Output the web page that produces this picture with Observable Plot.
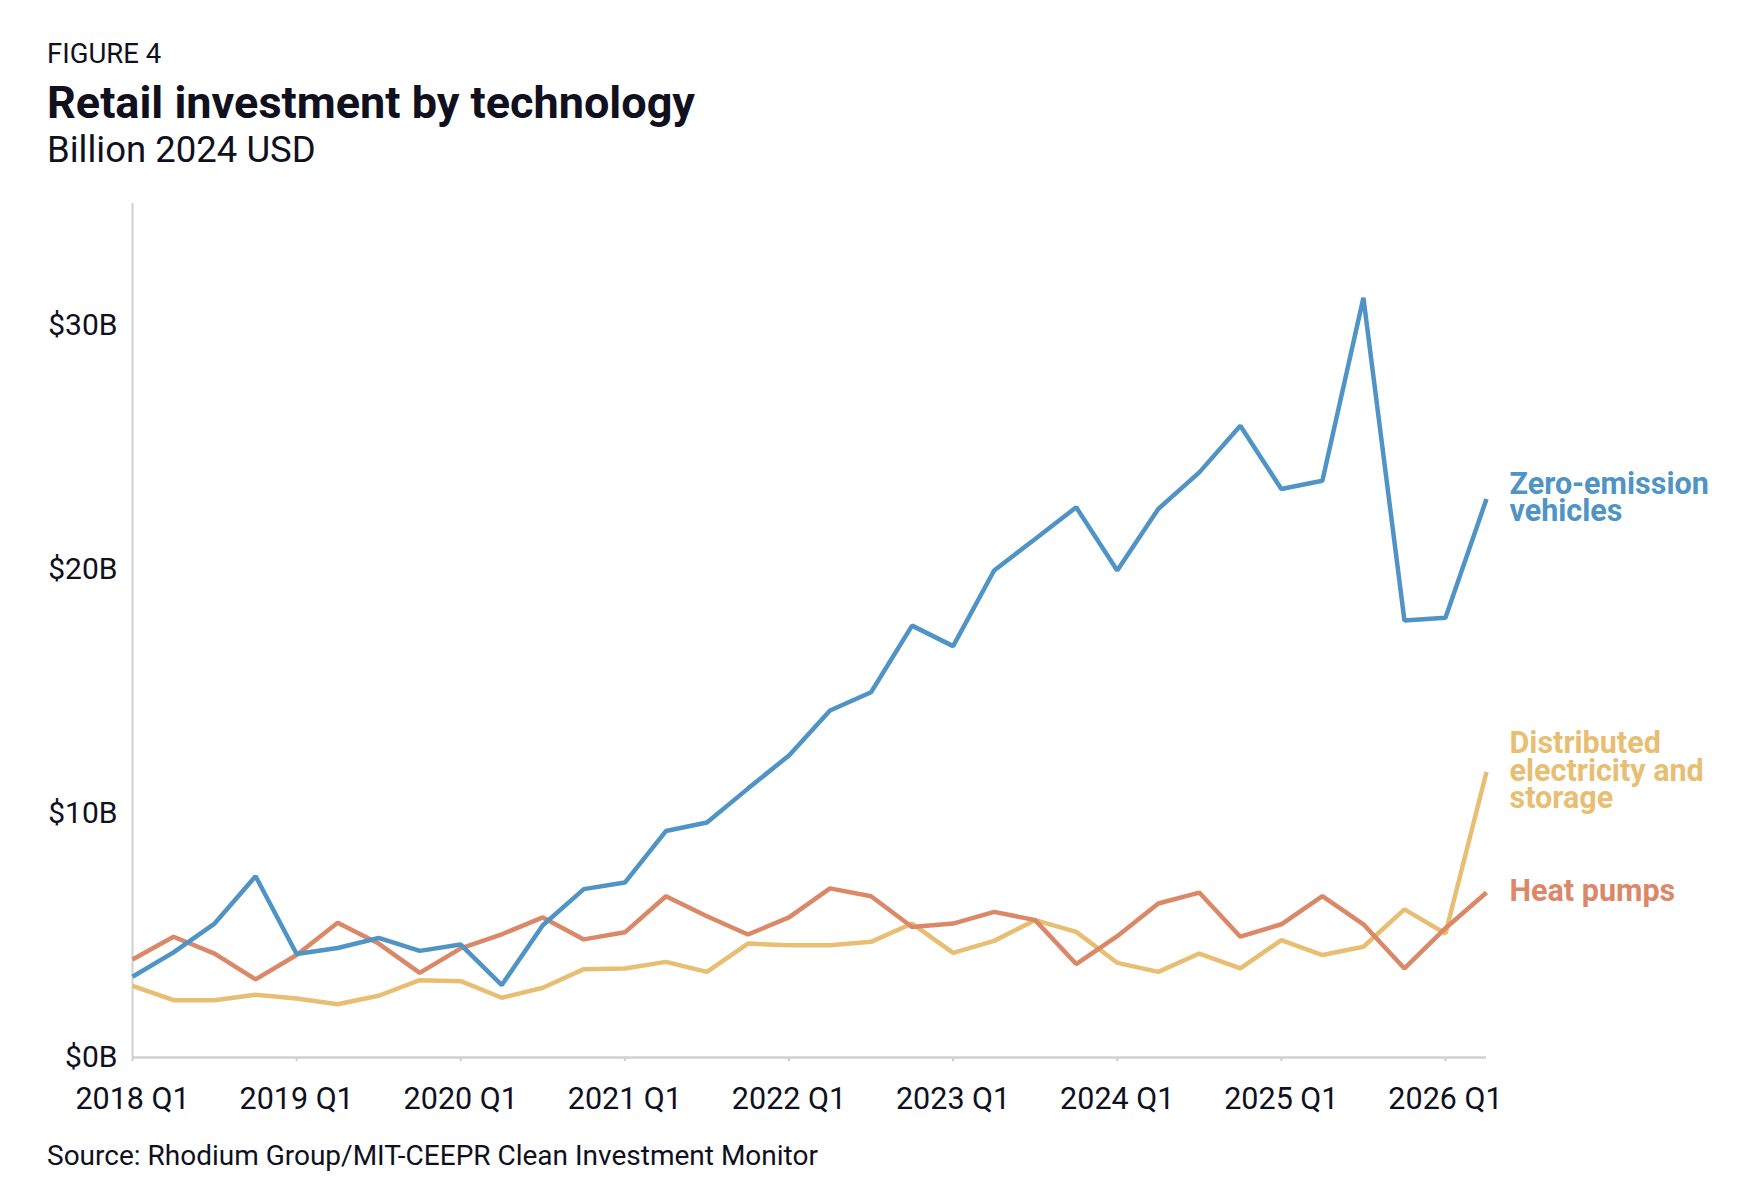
<!DOCTYPE html>
<html><head><meta charset="utf-8">
<script src="https://cdn.jsdelivr.net/npm/d3@7"></script>
<script src="https://cdn.jsdelivr.net/npm/@observablehq/plot@0.6"></script>
<style>
html,body{margin:0;padding:0;background:#fff;}
body{width:1746px;height:1196px;position:relative;overflow:hidden;font-family:Roboto,sans-serif;color:#10101e;}
.t{position:absolute;left:47px;line-height:1;white-space:nowrap;}
#fig{top:40px;font-size:27.5px;}
#title{top:80px;font-size:45px;font-weight:700;}
#sub{top:132.3px;font-size:36.5px;}
#src{top:1142px;font-size:28px;}
#chart{position:absolute;left:0;top:180px;width:1746px;}
#chart svg{max-width:none;}
</style></head><body>
<div class="t" id="fig">FIGURE 4</div>
<div class="t" id="title">Retail investment by technology</div>
<div class="t" id="sub">Billion 2024 USD</div>
<div id="chart"></div>
<div class="t" id="src">Source: Rhodium Group/MIT-CEEPR Clean Investment Monitor</div>
<script>
const quarters = [
  "2018 Q1","2018 Q2","2018 Q3","2018 Q4",
  "2019 Q1","2019 Q2","2019 Q3","2019 Q4",
  "2020 Q1","2020 Q2","2020 Q3","2020 Q4",
  "2021 Q1","2021 Q2","2021 Q3","2021 Q4",
  "2022 Q1","2022 Q2","2022 Q3","2022 Q4",
  "2023 Q1","2023 Q2","2023 Q3","2023 Q4",
  "2024 Q1","2024 Q2","2024 Q3","2024 Q4",
  "2025 Q1","2025 Q2","2025 Q3","2025 Q4",
  "2026 Q1","2026 Q2"
];
const xTicks = ["2018 Q1","2019 Q1","2020 Q1","2021 Q1","2022 Q1","2023 Q1","2024 Q1","2025 Q1","2026 Q1"];
const yTicks = [0, 10, 20, 30];

const distributed = [2.94,2.35,2.35,2.57,2.42,2.18,2.53,3.17,3.13,2.45,2.86,3.62,3.65,3.92,3.51,4.67,4.60,4.60,4.74,5.49,4.29,4.78,5.63,5.15,3.88,3.51,4.26,3.65,4.81,4.20,4.54,6.07,5.08,11.70];
const heatPumps = [4.02,4.95,4.26,3.20,4.20,5.52,4.67,3.47,4.47,5.05,5.74,4.84,5.13,6.61,5.79,5.04,5.74,6.93,6.61,5.35,5.49,5.97,5.63,3.83,4.97,6.31,6.76,4.95,5.46,6.61,5.46,3.65,5.30,6.76];
const zev = [3.31,4.31,5.49,7.43,4.24,4.49,4.90,4.37,4.63,2.97,5.42,6.90,7.17,9.28,9.63,11.02,12.38,14.22,14.97,17.70,16.86,19.96,21.25,22.55,19.96,22.48,23.98,25.89,23.30,23.64,31.14,17.91,18.02,22.89];

const seriesNames = ["Distributed electricity and storage", "Heat pumps", "Zero-emission vehicles"];
const seriesLabels = ["Distributed\nelectricity and\nstorage", "Heat pumps", "Zero-emission\nvehicles"];
const seriesColors = ["#e7be72", "#da8867", "#4f94c5"];
const seriesValues = [distributed, heatPumps, zev];

const qIndex = q => quarters.indexOf(q);
const rows = [];
seriesNames.forEach((s, k) => seriesValues[k].forEach((v, i) => rows.push({series: s, quarter: quarters[i], value: v})));
const ends = seriesNames.map((s, k) => ({series: s, label: seriesLabels[k], quarter: quarters[quarters.length - 1], value: seriesValues[k][seriesValues[k].length - 1]}));

const chart = Plot.plot({
  width: 1746, height: 950,
  marginLeft: 132, marginRight: 260, marginTop: 23, marginBottom: 73,
  style: {fontFamily: "Roboto, sans-serif", fontSize: "30px", color: "#10101e", background: "transparent", overflow: "visible"},
  x: {type: "linear", domain: [0, quarters.length - 1], label: null},
  y: {domain: [0, 35], label: null},
  color: {domain: seriesNames, range: seriesColors},
  marks: [
    Plot.ruleX([0], {stroke: "#d0d0d0", strokeWidth: 2}),
    Plot.axisY(yTicks, {tickSize: 0, tickPadding: 15, tickFormat: d => `$${d}B`, label: null, fill: "#10101e", fontSize: 30}),
    Plot.axisX(xTicks.map(qIndex), {tickSize: 4, tickPadding: 26, tickFormat: i => quarters[i], label: null, stroke: "#cccccc", strokeWidth: 2, fill: "#10101e", fontSize: 30.5}),
    Plot.ruleY([0], {stroke: "#d0d0d0", strokeWidth: 2.5}),
    Plot.line(rows, {x: d => qIndex(d.quarter), y: "value", z: "series", stroke: "series", strokeWidth: 4.5, strokeLinejoin: "miter", strokeLinecap: "butt"}),
    Plot.text(ends, {x: d => qIndex(d.quarter), y: "value", text: "label", fill: "series", textAnchor: "start", dx: 23, lineAnchor: "middle", lineHeight: 0.9, fontSize: 30.5, fontWeight: 700})
  ]
});
document.getElementById("chart").appendChild(chart);
</script>
</body></html>
